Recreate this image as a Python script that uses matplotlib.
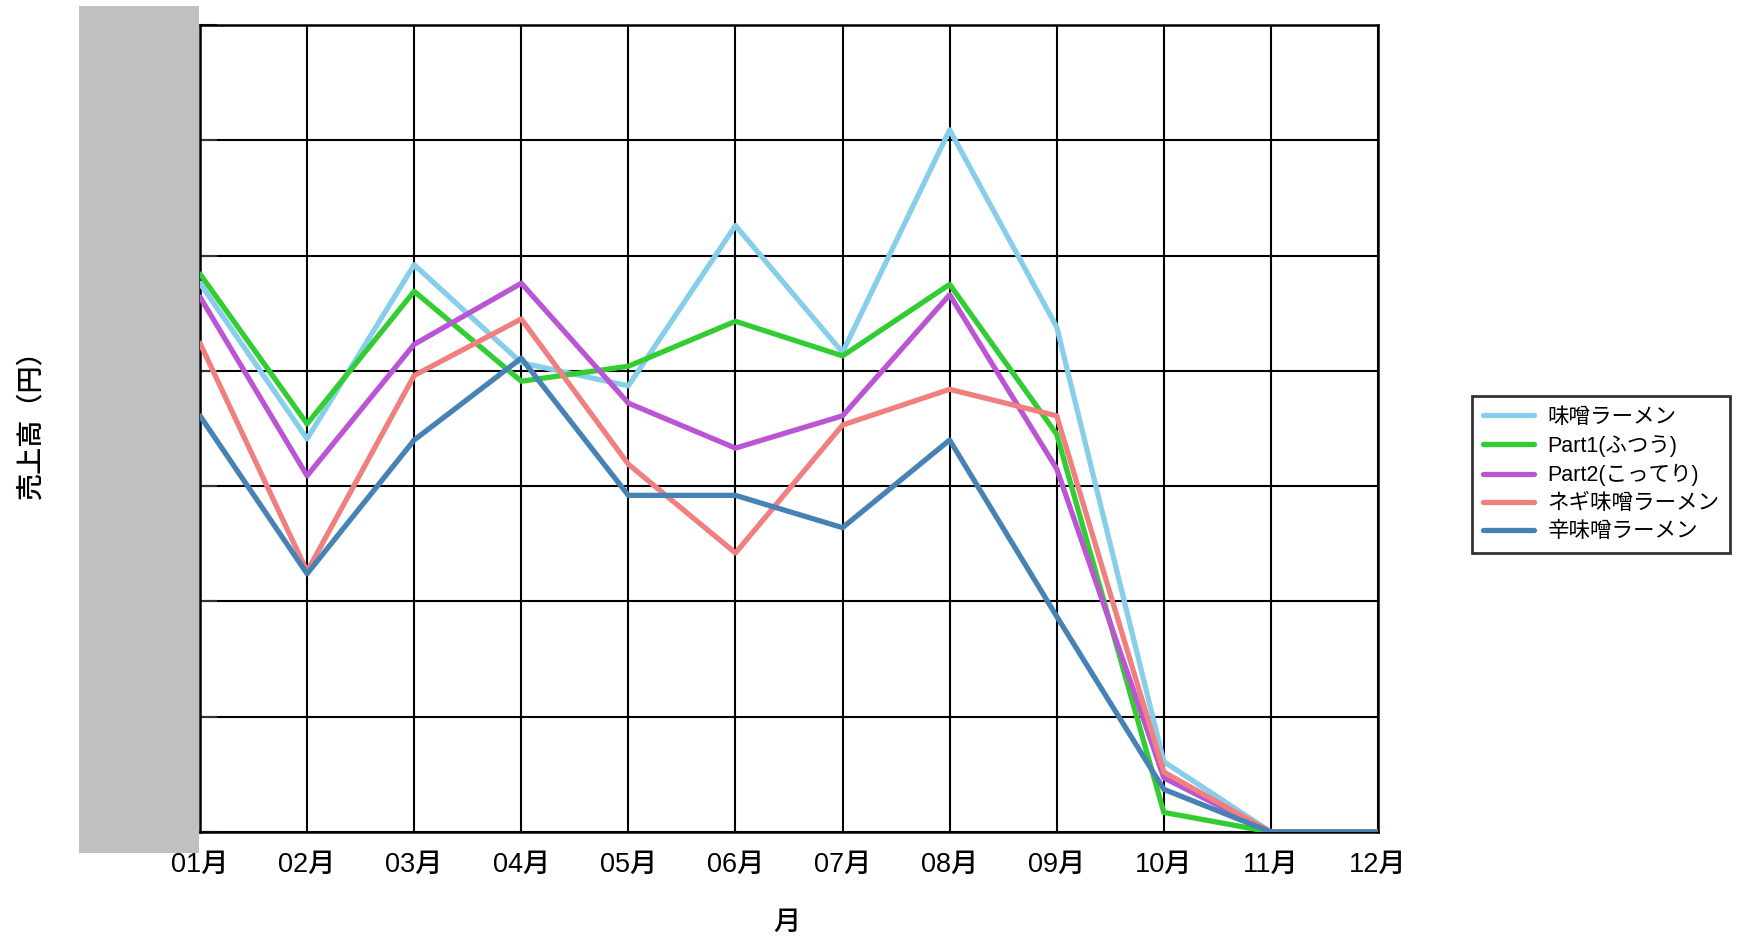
import matplotlib
matplotlib.use("Agg")
import matplotlib.pyplot as plt
from matplotlib.patches import Rectangle

plt.rcParams['font.family'] = ['Liberation Sans', 'Noto Sans CJK JP', 'DejaVu Sans']

months = ["01月", "02月", "03月", "04月", "05月", "06月", "07月", "08月", "09月", "10月", "11月", "12月"]
series_names = ["味噌ラーメン", "Part1(ふつう)", "Part2(こってり)", "ネギ味噌ラーメン", "辛味噌ラーメン"]
miso = [4.76, 3.41, 4.92, 4.07, 3.87, 5.26, 4.16, 6.09, 4.38, 0.61, 0, 0]
part1 = [4.84, 3.54, 4.69, 3.91, 4.04, 4.43, 4.13, 4.75, 3.45, 0.17, 0, 0]
part2 = [4.64, 3.09, 4.23, 4.76, 3.72, 3.33, 3.61, 4.66, 3.15, 0.47, 0, 0]
negi = [4.24, 2.26, 3.96, 4.45, 3.19, 2.42, 3.53, 3.84, 3.61, 0.52, 0, 0]
kara = [3.61, 2.24, 3.40, 4.11, 2.92, 2.92, 2.64, 3.40, 1.87, 0.37, 0, 0]
colors = ["#87CEEB", "#32CD32", "#BA55D3", "#F08080", "#4682B4"]
yticks = [0, 1, 2, 3, 4, 5, 6, 7]

fig = plt.figure(figsize=(17.38, 9.42), dpi=100)
fig.patches.append(Rectangle((79/1738, 1-853/942), 120/1738, 847/942,
                             transform=fig.transFigure, facecolor="#C0C0C0",
                             edgecolor="none", zorder=0))
ax = fig.add_axes([200/1738, 1-832/942, 1178/1738, 807/942])
ax.set_facecolor("white")
x = list(range(len(months)))
for name, vals, c in zip(series_names, [miso, part1, part2, negi, kara], colors):
    ax.plot(x, vals, color=c, lw=3.8, label=name, solid_capstyle='round', zorder=3)

ax.set_xlim(0, len(months) - 1)
ax.set_ylim(0, 7)
ax.set_xticks(x)
ax.set_xticklabels(months, fontsize=19.5, fontweight='medium')
ax.set_yticks(yticks)
ax.set_yticklabels([])
ax.grid(True, color="black", lw=1.5, zorder=1)
ax.tick_params(axis='x', length=0, pad=14)
ax.tick_params(axis='y', direction='in', length=12, width=1.5, color='#333333')
for s in ax.spines.values():
    s.set_color("black")
    s.set_linewidth(1.8)

fig.text(787/1738, 1-923/942, "月", fontsize=19.5, ha='center', va='center', fontweight='medium')
fig.text(31/1738, 1-418/942, "売上高（円）", fontsize=19.5, rotation=90, ha='center', va='center',
         fontweight='medium')

leg = fig.legend(loc='center left', bbox_to_anchor=(1472/1738, 1-474.5/942),
                 bbox_transform=fig.transFigure, fontsize=15.5, frameon=True,
                 fancybox=False, edgecolor='black', handlelength=2.4, handletextpad=0.6,
                 borderaxespad=0, labelspacing=0.33, borderpad=0.5)
leg.get_frame().set_linewidth(2)

fig.savefig("out.png", dpi=100, facecolor="white")
